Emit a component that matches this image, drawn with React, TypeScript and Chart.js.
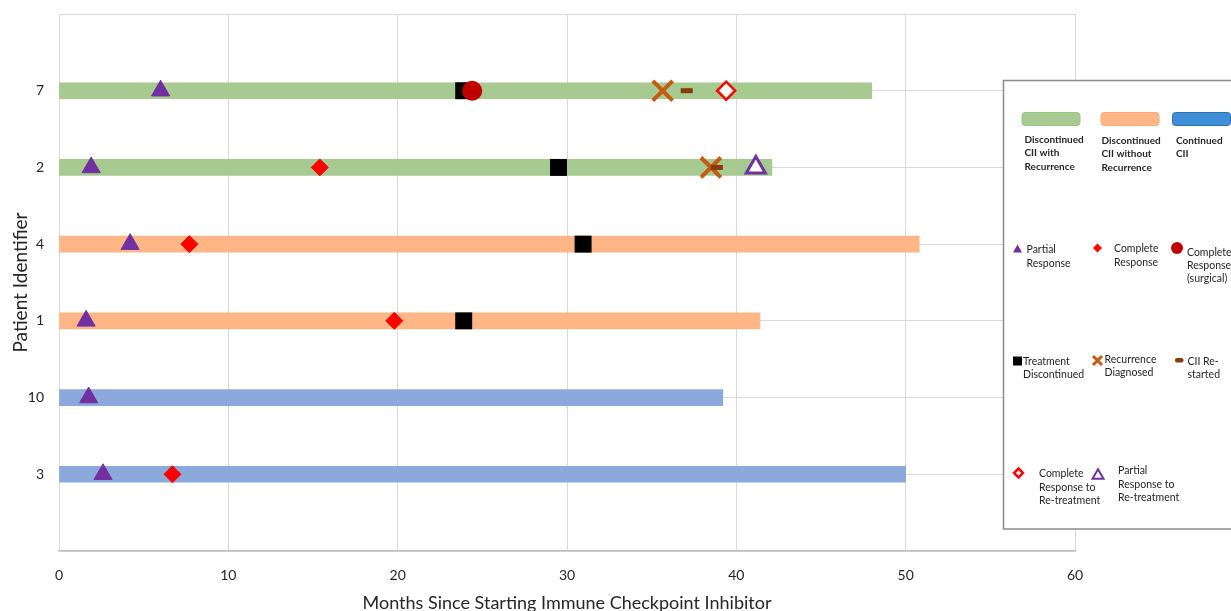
import React, { useEffect, useRef } from 'react';
import { Chart, registerables } from 'chart.js';

Chart.register(...registerables);

// ---------- data ----------
const patientIds = ['7', '2', '4', '1', '10', '3'];
const monthsFollowed = [48.0, 42.1, 50.8, 41.4, 39.2, 50.0];
const cohortOfPatient = ['recurrence', 'recurrence', 'noRecurrence', 'noRecurrence', 'continued', 'continued'];
const xTickValues = [0, 10, 20, 30, 40, 50, 60];

const partialResponsePatients = ['7', '2', '4', '1', '10', '3'];
const partialResponseMonths = [6.0, 1.9, 4.2, 1.6, 1.75, 2.6];
const completeResponsePatients = ['2', '4', '1', '3'];
const completeResponseMonths = [15.4, 7.7, 19.8, 6.7];
const surgicalResponsePatients = ['7'];
const surgicalResponseMonths = [24.4];
const discontinuedPatients = ['7', '2', '4', '1'];
const discontinuedMonths = [23.9, 29.5, 30.95, 23.9];
const recurrencePatients = ['7', '2'];
const recurrenceMonths = [35.65, 38.5];
const restartedPatients = ['7', '2'];
const restartedMonths = [37.07, 38.85];
const retreatCompletePatients = ['7'];
const retreatCompleteMonths = [39.4];
const retreatPartialPatients = ['2'];
const retreatPartialMonths = [41.15];

// ---------- styles ----------
const cohortColor: Record<string, string> = {
  recurrence: '#A6CA8F',
  noRecurrence: '#FFB687',
  continued: '#8CA9DC',
};
const PURPLE = '#7030A0';
const RED = '#FF0000';
const DARKRED = '#C00000';
const XORANGE = '#C55A11';
const BROWN = '#843C0C';
const TEXT = '#262626';
const FONT = 'Lato, "Open Sans", sans-serif';

const rowOf = (id: string) => patientIds.length - patientIds.indexOf(id);

const markerSet = (label: string, patients: string[], months: number[], style: any) => ({
  type: 'scatter' as const,
  label,
  data: patients.map((p, i) => ({ x: months[i], y: rowOf(p) })),
  order: 0,
  pointHoverRadius: 0,
  ...style,
});

// ---------- legend drawing ----------
function tri(ctx: CanvasRenderingContext2D, cx: number, cy: number, w: number, h: number, fill: string | null, stroke: string | null, lw = 1) {
  ctx.beginPath();
  ctx.moveTo(cx, cy - h / 2);
  ctx.lineTo(cx + w / 2, cy + h / 2);
  ctx.lineTo(cx - w / 2, cy + h / 2);
  ctx.closePath();
  if (fill) { ctx.fillStyle = fill; ctx.fill(); }
  if (stroke) { ctx.strokeStyle = stroke; ctx.lineWidth = lw; ctx.stroke(); }
}
function diamond(ctx: CanvasRenderingContext2D, cx: number, cy: number, r: number, fill: string | null, stroke: string | null, lw = 1) {
  ctx.beginPath();
  ctx.moveTo(cx, cy - r);
  ctx.lineTo(cx + r, cy);
  ctx.lineTo(cx, cy + r);
  ctx.lineTo(cx - r, cy);
  ctx.closePath();
  if (fill) { ctx.fillStyle = fill; ctx.fill(); }
  if (stroke) { ctx.strokeStyle = stroke; ctx.lineWidth = lw; ctx.stroke(); }
}
function roundRect(ctx: CanvasRenderingContext2D, x: number, y: number, w: number, h: number, r: number) {
  ctx.beginPath();
  ctx.moveTo(x + r, y);
  ctx.lineTo(x + w - r, y);
  ctx.arcTo(x + w, y, x + w, y + r, r);
  ctx.lineTo(x + w, y + h - r);
  ctx.arcTo(x + w, y + h, x + w - r, y + h, r);
  ctx.lineTo(x + r, y + h);
  ctx.arcTo(x, y + h, x, y + h - r, r);
  ctx.lineTo(x, y + r);
  ctx.arcTo(x, y, x + r, y, r);
  ctx.closePath();
}
function lines(ctx: CanvasRenderingContext2D, x: number, ys: number[], texts: string[]) {
  ctx.fillStyle = TEXT;
  texts.forEach((t, i) => ctx.fillText(t, x, ys[i]));
}

const legendPlugin = {
  id: 'customLegend',
  afterDraw(chart: any) {
    const ctx: CanvasRenderingContext2D = chart.ctx;
    ctx.save();
    // box
    ctx.fillStyle = '#ffffff';
    ctx.fillRect(1003.5, 80.5, 240, 448.5);
    ctx.strokeStyle = '#8a8a8a';
    ctx.lineWidth = 1.5;
    ctx.strokeRect(1003.5, 80.5, 240, 448.5);

    // cohort patches
    const patches = [
      { x: 1022, fill: cohortColor.recurrence, stroke: '#9cc483' },
      { x: 1101, fill: cohortColor.noRecurrence, stroke: '#f7ad7b' },
      { x: 1172.5, fill: '#3f8fd8', stroke: '#2e6fb0' },
    ];
    patches.forEach((p) => {
      roundRect(ctx, p.x, 112.5, 58, 13, 3);
      ctx.fillStyle = p.fill;
      ctx.fill();
      ctx.strokeStyle = p.stroke;
      ctx.lineWidth = 1;
      ctx.stroke();
    });

    ctx.textBaseline = 'middle';
    ctx.textAlign = 'left';
    ctx.font = `bold 10px ${FONT}`;
    lines(ctx, 1024.5, [139.5, 153, 166.5], ['Discontinued', 'CII with', 'Recurrence']);
    lines(ctx, 1101.5, [140.5, 154, 167.5], ['Discontinued', 'CII without', 'Recurrence']);
    lines(ctx, 1176, [140.5, 154], ['Continued', 'CII']);

    ctx.font = `10.5px ${FONT}`;
    // row 2
    tri(ctx, 1017.5, 248.5, 9, 8, PURPLE, null);
    lines(ctx, 1026.5, [250, 263.5], ['Partial', 'Response']);
    diamond(ctx, 1097.5, 248, 4.5, RED, null);
    lines(ctx, 1114, [249, 262.5], ['Complete', 'Response']);
    ctx.beginPath();
    ctx.arc(1177, 248, 6, 0, Math.PI * 2);
    ctx.fillStyle = DARKRED;
    ctx.fill();
    lines(ctx, 1187, [252.5, 266, 279], ['Complete', 'Response', '(surgical)']);

    // row 3
    ctx.fillStyle = '#000000';
    ctx.fillRect(1013, 356.5, 9, 9);
    lines(ctx, 1023, [361.5, 375], ['Treatment', 'Discontinued']);
    ctx.strokeStyle = XORANGE;
    ctx.lineWidth = 3;
    ctx.beginPath();
    ctx.moveTo(1093, 356);
    ctx.lineTo(1102, 365);
    ctx.moveTo(1102, 356);
    ctx.lineTo(1093, 365);
    ctx.stroke();
    lines(ctx, 1104.5, [360, 373], ['Recurrence', 'Diagnosed']);
    roundRect(ctx, 1175, 358, 8.5, 4.5, 2);
    ctx.fillStyle = BROWN;
    ctx.fill();
    lines(ctx, 1187.5, [361.5, 375], ['CII Re-', 'started']);

    // row 4
    diamond(ctx, 1018.5, 473, 4.5, '#ffffff', RED, 2.5);
    lines(ctx, 1039, [474, 487.5, 501], ['Complete', 'Response to', 'Re-treatment']);
    tri(ctx, 1098, 474, 11, 9.5, '#ffffff', PURPLE, 2);
    lines(ctx, 1118, [471, 484.5, 498], ['Partial', 'Response to', 'Re-treatment']);

    ctx.restore();
  },
};

export default function App() {
  const canvasRef = useRef<HTMLCanvasElement>(null);

  useEffect(() => {
    const canvas = canvasRef.current;
    if (!canvas) return;

    const barDataset: any = {
      type: 'bar',
      label: 'Follow-up',
      indexAxis: 'y',
      data: patientIds.map((p, i) => ({ x: [0, monthsFollowed[i]], y: rowOf(p) })),
      backgroundColor: cohortOfPatient.map((c) => cohortColor[c]),
      borderWidth: 0,
      barThickness: 16,
      grouped: false,
      order: 5,
    };

    const chart = new Chart(canvas, {
      type: 'scatter',
      data: {
        datasets: [
          markerSet('Complete Response (surgical)', surgicalResponsePatients, surgicalResponseMonths, {
            pointStyle: 'circle', pointRadius: 10, backgroundColor: DARKRED, borderColor: DARKRED, borderWidth: 0,
          }),
          markerSet('CII Re-started', restartedPatients, restartedMonths, {
            pointStyle: 'line', pointRadius: 6, backgroundColor: BROWN, borderColor: BROWN, borderWidth: 5,
          }),
          markerSet('Partial Response', partialResponsePatients, partialResponseMonths, {
            pointStyle: 'triangle', pointRadius: 10.5, backgroundColor: PURPLE, borderColor: PURPLE, borderWidth: 1,
          }),
          markerSet('Complete Response', completeResponsePatients, completeResponseMonths, {
            pointStyle: 'rectRot', pointRadius: 8.5, backgroundColor: RED, borderColor: RED, borderWidth: 1,
          }),
          markerSet('Treatment Discontinued', discontinuedPatients, discontinuedMonths, {
            pointStyle: 'rect', pointRadius: 12, backgroundColor: '#000000', borderColor: '#000000', borderWidth: 0,
          }),
          markerSet('Recurrence Diagnosed', recurrencePatients, recurrenceMonths, {
            pointStyle: 'crossRot', pointRadius: 14, backgroundColor: XORANGE, borderColor: XORANGE, borderWidth: 4,
          }),
          markerSet('Complete Response to Re-treatment', retreatCompletePatients, retreatCompleteMonths, {
            pointStyle: 'rectRot', pointRadius: 9, backgroundColor: '#ffffff', borderColor: RED, borderWidth: 2.5,
          }),
          markerSet('Partial Response to Re-treatment', retreatPartialPatients, retreatPartialMonths, {
            pointStyle: 'triangle', pointRadius: 11, backgroundColor: '#ffffff', borderColor: PURPLE, borderWidth: 3,
          }),
          barDataset,
        ] as any,
      },
      options: {
        responsive: false,
        animation: false,
        devicePixelRatio: 1,
        layout: { autoPadding: false, padding: { left: 0, top: 14, right: 156, bottom: 0 } },
        plugins: {
          legend: { display: false },
          tooltip: { enabled: false },
        },
        scales: {
          x: {
            type: 'linear',
            min: 0,
            max: 60,
            offset: false,
            afterBuildTicks: (scale: any) => {
              scale.ticks = xTickValues.map((v) => ({ value: v }));
            },
            ticks: {
              color: TEXT,
              font: { family: FONT, size: 14 },
              padding: 16,
              maxRotation: 0,
            },
            grid: { color: '#d9d9d9', lineWidth: 1, drawTicks: false, offset: false },
            border: { color: '#bfbfbf', width: 1.5 },
            title: {
              display: true,
              text: 'Months Since Starting Immune Checkpoint Inhibitor',
              color: TEXT,
              font: { family: FONT, size: 18 },
              padding: { top: 0, bottom: -3 },
            },
            afterFit: (scale: any) => {
              scale.height = 60;
              scale.paddingLeft = 0;
              scale.paddingRight = 0;
            },
          },
          y: {
            type: 'linear',
            min: 0,
            max: 7,
            offset: false,
            ticks: {
              stepSize: 1,
              autoSkip: false,
              color: TEXT,
              font: { family: FONT, size: 14 },
              padding: 15,
              callback: (v: any) => {
                const idx = patientIds.length - Number(v);
                return Number.isInteger(Number(v)) && idx >= 0 && idx < patientIds.length ? patientIds[idx] : '';
              },
            },
            grid: { color: '#d9d9d9', lineWidth: 1, drawTicks: false, offset: false },
            border: { color: '#d9d9d9', width: 1 },
            title: {
              display: true,
              text: 'Patient Identifier',
              color: TEXT,
              font: { family: FONT, size: 19 },
              padding: { top: 9, bottom: 0 },
            },
            afterFit: (scale: any) => {
              scale.width = 59;
              scale.paddingTop = 0;
              scale.paddingBottom = 0;
            },
          },
        },
      } as any,
      plugins: [legendPlugin],
    });

    return () => chart.destroy();
  }, []);

  return (
    <div style={{ position: 'fixed', left: 0, top: 0, width: 1231, height: 611, background: '#ffffff' }}>
      <canvas ref={canvasRef} width={1231} height={611} style={{ display: 'block' }} />
    </div>
  );
}
